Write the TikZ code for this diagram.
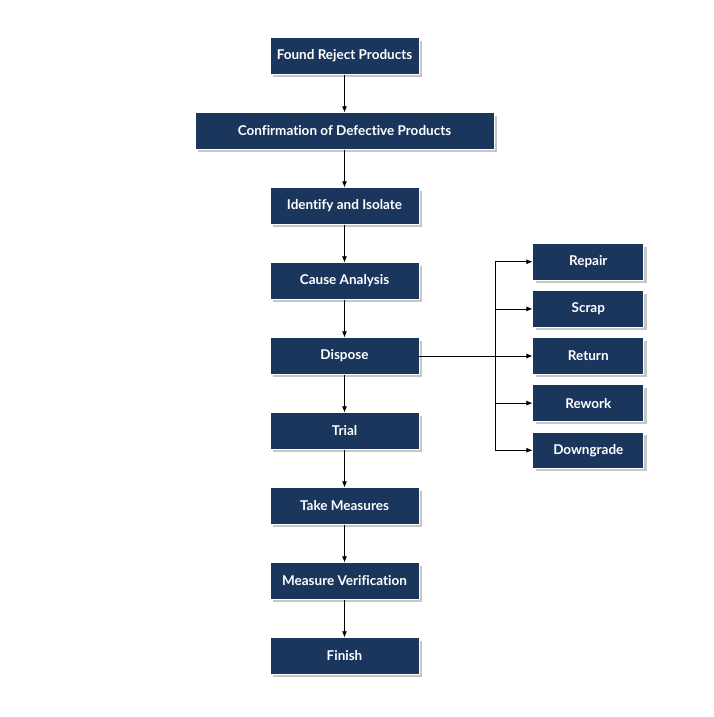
\documentclass[tikz,border=0pt]{standalone}
\usepackage{fontspec}
\setmainfont{Lato}[Ligatures={NoCommon}]
\usepackage{tikz}
\usetikzlibrary{arrows.meta,positioning,shadows}
\definecolor{boxnavy}{HTML}{1B365D}

\begin{document}
\begin{tikzpicture}[x=1pt, y=1pt, font=\fontsize{13.5}{15}\selectfont\bfseries, node distance=37.7pt and 113pt, >={Latex[length=6pt,width=5pt]},
 stepbox/.style={draw=white, line width=0.8pt, fill=boxnavy, text=white, align=center, minimum height=36.5pt, minimum width=149pt,
  drop shadow={shadow xshift=3pt, shadow yshift=-3pt, fill=gray!45, opacity=1}},
 widebox/.style={stepbox, minimum width=299pt},
 optbox/.style={stepbox, minimum width=111pt},
 line/.style={->, line width=0.7pt}]
\useasboundingbox (0,0) rectangle (714,-717);
\node[stepbox] (found) at (344.5,-56) {Found Reject Products};
\node[widebox, below=of found] (confirm) {Confirmation of Defective Products};
\node[stepbox, below=of confirm] (isolate) {Identify and Isolate};
\node[stepbox, below=of isolate] (cause) {Cause Analysis};
\node[stepbox, below=of cause] (dispose) {Dispose};
\node[stepbox, below=of dispose] (trial) {Trial};
\node[stepbox, below=of trial] (measures) {Take Measures};
\node[stepbox, below=of measures] (verify) {Measure Verification};
\node[stepbox, below=of verify] (finish) {Finish};
% options of disposal
\node[optbox, right=of dispose] (return) {Return};
\node[optbox, above=9.8pt of return] (scrap) {Scrap};
\node[optbox, above=9.8pt of scrap] (repair) {Repair};
\node[optbox, below=9.8pt of return] (rework) {Rework};
\node[optbox, below=9.8pt of rework] (downgrade) {Downgrade};
\coordinate (split) at ([xshift=76pt]dispose.east);
\draw[line] (found)--(confirm); \draw[line] (confirm)--(isolate);
\draw[line] (isolate)--(cause); \draw[line] (cause)--(dispose);
\draw[line] (dispose)--(trial); \draw[line] (trial)--(measures);
\draw[line] (measures)--(verify); \draw[line] (verify)--(finish);
\draw[line] (dispose)--(return);
\draw[line width=0.7pt] (split |- repair)--(split |- downgrade);
\draw[line] (split |- repair)--(repair); \draw[line] (split |- scrap)--(scrap);
\draw[line] (split |- rework)--(rework); \draw[line] (split |- downgrade)--(downgrade);
\end{tikzpicture}
\end{document}
